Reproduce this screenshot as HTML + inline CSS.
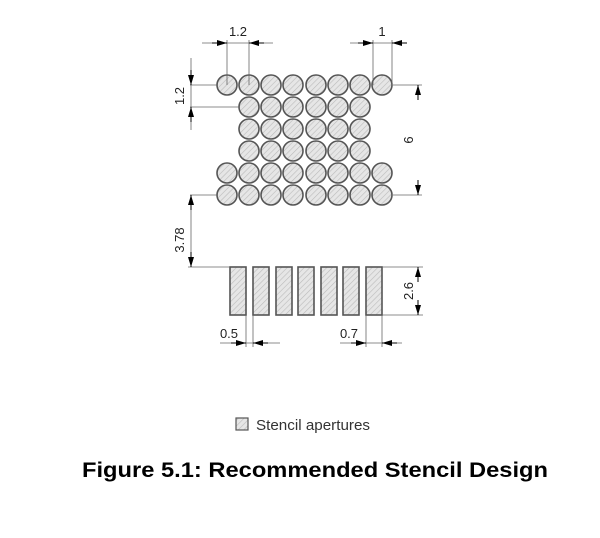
<!DOCTYPE html>
<html><head><style>body{margin:0;background:#fff}svg{display:block}</style></head><body>
<svg width="600" height="538" viewBox="0 0 600 538" xmlns="http://www.w3.org/2000/svg" font-family="Liberation Sans, sans-serif">
<defs>
<pattern id="h" width="4" height="4" patternUnits="userSpaceOnUse" patternTransform="rotate(45)">
<rect width="4" height="4" fill="#e6e6e6"/><line x1="0" y1="0" x2="0" y2="4" stroke="#bbb" stroke-width="1.2"/>
</pattern>
<marker id="a" markerWidth="10" markerHeight="6" refX="10" refY="3" orient="auto" markerUnits="userSpaceOnUse"><path d="M0,0 L10,3 L0,6z" fill="#000"/></marker>
</defs>
<g fill="url(#h)" stroke="#555" stroke-width="1.6">
<g id="r8">
<circle cx="227" cy="85" r="10"/><circle cx="249" cy="85" r="10"/><circle cx="271" cy="85" r="10"/><circle cx="293" cy="85" r="10"/><circle cx="316" cy="85" r="10"/><circle cx="338" cy="85" r="10"/><circle cx="360" cy="85" r="10"/><circle cx="382" cy="85" r="10"/>
</g>
<use href="#r8" y="88"/><use href="#r8" y="110"/>
<g id="r6">
<circle cx="249" cy="107" r="10"/><circle cx="271" cy="107" r="10"/><circle cx="293" cy="107" r="10"/><circle cx="316" cy="107" r="10"/><circle cx="338" cy="107" r="10"/><circle cx="360" cy="107" r="10"/>
</g>
<use href="#r6" y="22"/><use href="#r6" y="44"/>
<rect x="230" y="267" width="16" height="48"/><rect x="253" y="267" width="16" height="48"/><rect x="276" y="267" width="16" height="48"/><rect x="298" y="267" width="16" height="48"/><rect x="321" y="267" width="16" height="48"/><rect x="343" y="267" width="16" height="48"/><rect x="366" y="267" width="16" height="48"/>
<rect x="236" y="418" width="12" height="12" stroke-width="1.2"/>
</g>
<g stroke="#666" stroke-width="0.8" fill="none">
<line x1="227" y1="40" x2="227" y2="85"/><line x1="249" y1="40" x2="249" y2="85"/>
<line x1="202" y1="43" x2="273" y2="43"/>
<line x1="373" y1="40" x2="373" y2="85"/><line x1="392" y1="40" x2="392" y2="85"/>
<line x1="350" y1="43" x2="405" y2="43"/>
<line x1="190" y1="85" x2="218" y2="85"/><line x1="190" y1="107" x2="240" y2="107"/>
<line x1="191" y1="58" x2="191" y2="130"/>
<line x1="393" y1="85" x2="422" y2="85"/><line x1="393" y1="195" x2="422" y2="195"/>
<line x1="190" y1="195" x2="218" y2="195"/><line x1="188" y1="267" x2="230" y2="267"/>
<line x1="191" y1="195" x2="191" y2="267"/>
<line x1="382" y1="267" x2="423" y2="267"/><line x1="382" y1="315" x2="423" y2="315"/>
<line x1="246" y1="315" x2="246" y2="347"/><line x1="253" y1="315" x2="253" y2="347"/>
<line x1="220" y1="343" x2="280" y2="343"/>
<line x1="366" y1="315" x2="366" y2="347"/><line x1="382" y1="315" x2="382" y2="347"/>
<line x1="340" y1="343" x2="402" y2="343"/>
</g>
<g stroke="#000" stroke-width="1" marker-end="url(#a)">
<line x1="212" y1="43" x2="227" y2="43"/><line x1="264" y1="43" x2="249" y2="43"/>
<line x1="358" y1="43" x2="373" y2="43"/><line x1="407" y1="43" x2="392" y2="43"/>
<line x1="191" y1="70" x2="191" y2="85"/><line x1="191" y1="122" x2="191" y2="107"/>
<line x1="418" y1="100" x2="418" y2="85"/><line x1="418" y1="180" x2="418" y2="195"/>
<line x1="191" y1="210" x2="191" y2="195"/><line x1="191" y1="252" x2="191" y2="267"/>
<line x1="418" y1="282" x2="418" y2="267"/><line x1="418" y1="300" x2="418" y2="315"/>
<line x1="231" y1="343" x2="246" y2="343"/><line x1="268" y1="343" x2="253" y2="343"/>
<line x1="351" y1="343" x2="366" y2="343"/><line x1="397" y1="343" x2="382" y2="343"/>
</g>
<g font-size="13" fill="#222" text-anchor="middle">
<text x="238" y="36">1.2</text>
<text x="382" y="36">1</text>
<text transform="translate(184,96) rotate(-90)">1.2</text>
<text transform="translate(413,140) rotate(-90)">6</text>
<text transform="translate(184,240) rotate(-90)">3.78</text>
<text transform="translate(413,291) rotate(-90)">2.6</text>
<text x="229" y="338">0.5</text>
<text x="349" y="338">0.7</text>
</g>
<text x="256" y="430" font-size="15" fill="#333" textLength="114" lengthAdjust="spacingAndGlyphs">Stencil apertures</text>
<text x="82" y="477" font-size="21" font-weight="bold" fill="#000" textLength="466" lengthAdjust="spacingAndGlyphs">Figure 5.1: Recommended Stencil Design</text>
</svg>
</body></html>
